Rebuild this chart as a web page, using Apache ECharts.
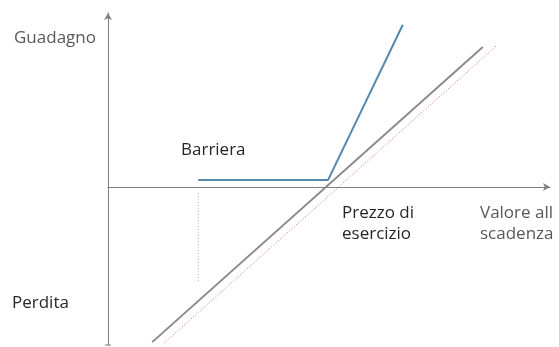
<!DOCTYPE html>
<html>
<head>
<meta charset="utf-8">
<script src="https://cdn.jsdelivr.net/npm/echarts@6/dist/echarts.min.js"></script>
<style>
  html, body { margin: 0; padding: 0; background: #fff; }
  #main { width: 559px; height: 347px; }
</style>
</head>
<body>
<div id="main"></div>
<script>
// payoff lines, x = underlying value, y = profit / loss (arbitrary units)
var barrierX = [20.4, 49.8, 66.7];
var barrierY = [1.6, 1.6, 36.7];
var underX = [10.0, 84.8];
var underY = [-35.1, 31.7];
var refX = [12.7, 87.8];
var refY = [-35.3, 31.9];
var barrierMarkX = [20.4, 20.4];
var barrierMarkY = [-1.4, -21.8];

function pairs(xs, ys) {
    var out = [];
    for (var i = 0; i < xs.length; i++) out.push([xs[i], ys[i]]);
    return out;
}

var chart = echarts.init(document.getElementById('main'));
var font = '"Open Sans", "Noto Sans", sans-serif';

chart.setOption({
    animation: false,
    grid: { left: 108, right: 9, top: 13, bottom: 2 },
    xAxis: {
        type: 'value', min: 0, max: 100,
        axisLine: { onZero: true, lineStyle: { color: '#7f7f7f', width: 1 }, symbol: ['none', 'arrow'], symbolSize: [6, 7] },
        axisTick: { show: false }, axisLabel: { show: false }, splitLine: { show: false }
    },
    yAxis: {
        type: 'value', min: -35.75, max: 39.37,
        axisLine: { onZero: false, lineStyle: { color: '#7f7f7f', width: 1 }, symbol: ['none', 'arrow'], symbolSize: [6, 7] },
        axisTick: { show: false }, axisLabel: { show: false }, splitLine: { show: false }
    },
    series: [
        {
            type: 'line', data: pairs(refX, refY), symbol: 'none', silent: true,
            lineStyle: { color: '#e06a6a', width: 1, type: [1, 2] }
        },
        {
            type: 'line', data: pairs(underX, underY), symbol: 'none', silent: true,
            lineStyle: { color: '#8a8a8a', width: 2 }
        },
        {
            type: 'line', data: pairs(barrierX, barrierY), symbol: 'none', silent: true,
            lineStyle: { color: '#5589b0', width: 2 }
        },
        {
            type: 'line', data: pairs(barrierMarkX, barrierMarkY), symbol: 'none', silent: true,
            lineStyle: { color: '#a6a6a6', width: 1, type: [1, 2] }
        }
    ],
    graphic: [
        { type: 'text', left: 14, top: 30, style: { text: 'Guadagno', font: '17px ' + font, fill: '#595959' } },
        { type: 'text', left: 12, top: 295, style: { text: 'Perdita', font: '17px ' + font, fill: '#262626' } },
        { type: 'text', left: 181, top: 142, style: { text: 'Barriera', font: '17px ' + font, fill: '#262626' } },
        { type: 'text', left: 342, top: 203, style: { text: 'Prezzo di\nesercizio', font: '17px ' + font, fill: '#262626', lineHeight: 21 } },
        { type: 'text', left: 480, top: 203, style: { text: 'Valore all\nscadenza', font: '17px ' + font, fill: '#595959', lineHeight: 21 } },
        { type: 'line', shape: { x1: 105, y1: 345, x2: 111, y2: 345 }, style: { stroke: '#7f7f7f', lineWidth: 1 } }
    ]
});
</script>
</body>
</html>
